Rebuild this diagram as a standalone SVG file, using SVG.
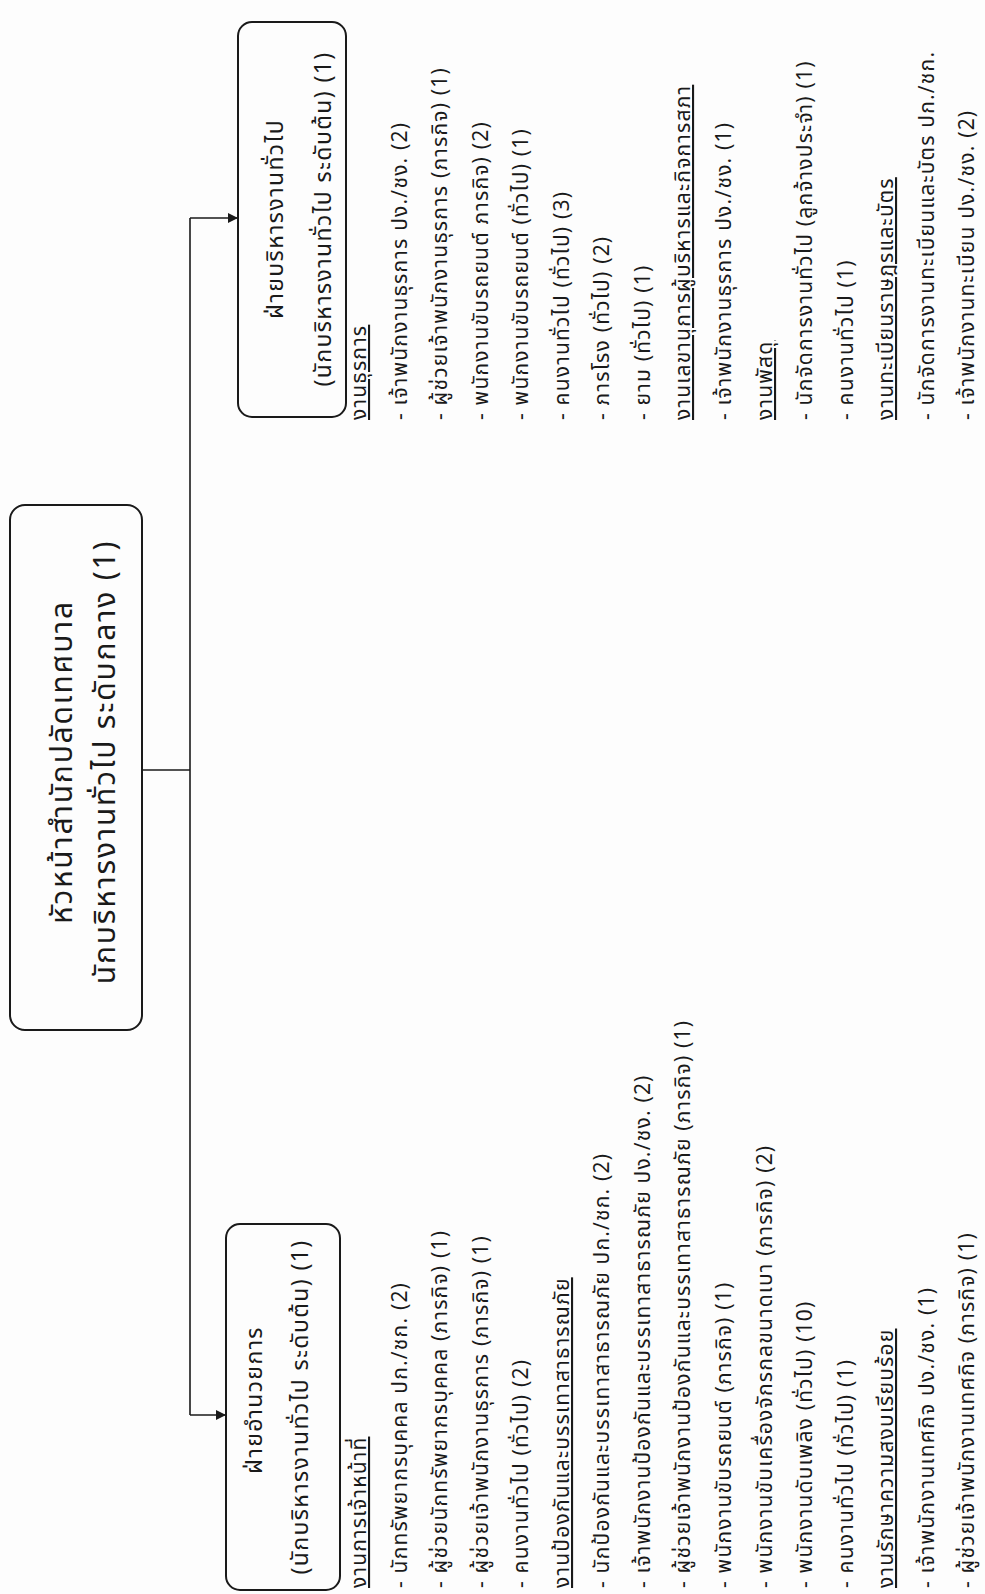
<svg xmlns="http://www.w3.org/2000/svg" width="985" height="1594" viewBox="0 0 985 1594">
<defs>
<style>
text{font-family:"Noto Sans Thai","TlwgTypewriter","Loma","Garuda","DejaVu Sans",sans-serif;fill:#1a1a1a}
.box{fill:none;stroke:#1a1a1a;stroke-width:2}
.ln{fill:none;stroke:#1a1a1a;stroke-width:1.6}
.h{font-size:30px;letter-spacing:1.8px;text-anchor:middle}
.b{font-size:23px;letter-spacing:1.4px;text-anchor:middle}
.l{font-size:21px;letter-spacing:1.2px}
.u{text-decoration:underline}
</style>
<marker id="ah" markerWidth="10" markerHeight="10" refX="9" refY="5" orient="auto" markerUnits="userSpaceOnUse"><path d="M0,0 L10,5 L0,10 z" fill="#1a1a1a"/></marker>
</defs>
<rect width="985" height="1594" fill="#fdfdfd"/>
<g id="head">
<rect class="box" x="10" y="505" width="132" height="525" rx="15"/>
<text class="h" transform="translate(72,762) rotate(-90)">หัวหน้าสำนักปลัดเทศบาล</text>
<text class="h" transform="translate(115,762) rotate(-90)">นักบริหารงานทั่วไป ระดับกลาง (1)</text>
</g>
<g id="general">
<rect class="box" x="238" y="22" width="108" height="395" rx="14"/>
<text class="b" transform="translate(283,219) rotate(-90)">ฝ่ายบริหารงานทั่วไป</text>
<text class="b" transform="translate(331,219) rotate(-90)">(นักบริหารงานทั่วไป ระดับต้น) (1)</text>
</g>
<g id="admin">
<rect class="box" x="226" y="1224" width="114" height="366" rx="14"/>
<text class="b" transform="translate(262,1400) rotate(-90)">ฝ่ายอำนวยการ</text>
<text class="b" transform="translate(308,1407) rotate(-90)">(นักบริหารงานทั่วไป ระดับต้น) (1)</text>
</g>
<g id="connectors">
<path class="ln" d="M142,770 H190"/>
<path class="ln" d="M190,218 V1415"/>
<path class="ln" d="M190,218 H237" marker-end="url(#ah)"/>
<path class="ln" d="M190,1415 H225" marker-end="url(#ah)"/>
</g>
<g id="admin-list" class="l">
<text class="u" transform="translate(366,1588) rotate(-90)">งานการเจ้าหน้าที่</text>
<text transform="translate(407,1588) rotate(-90)">- นักทรัพยากรบุคคล ปก./ชก.  (2)</text>
<text transform="translate(447,1588) rotate(-90)">- ผู้ช่วยนักทรัพยากรบุคคล (ภารกิจ) (1)</text>
<text transform="translate(488,1588) rotate(-90)">- ผู้ช่วยเจ้าพนักงานธุรการ (ภารกิจ)  (1)</text>
<text transform="translate(528,1588) rotate(-90)">- คนงานทั่วไป (ทั่วไป) (2)</text>
<text class="u" transform="translate(569,1588) rotate(-90)">งานป้องกันและบรรเทาสาธารณภัย</text>
<text transform="translate(609,1588) rotate(-90)">- นักป้องกันและบรรเทาสาธารณภัย ปก./ชก. (2)</text>
<text transform="translate(650,1588) rotate(-90)">- เจ้าพนักงานป้องกันและบรรเทาสาธารณภัย ปง./ชง. (2)</text>
<text transform="translate(690,1588) rotate(-90)">- ผู้ช่วยเจ้าพนักงานป้องกันและบรรเทาสาธารณภัย  (ภารกิจ) (1)</text>
<text transform="translate(731,1588) rotate(-90)">- พนักงานขับรถยนต์ (ภารกิจ) (1)</text>
<text transform="translate(772,1588) rotate(-90)">- พนักงานขับเครื่องจักรกลขนาดเบา (ภารกิจ) (2)</text>
<text transform="translate(812,1588) rotate(-90)">- พนักงานดับเพลิง (ทั่วไป) (10)</text>
<text transform="translate(853,1588) rotate(-90)">- คนงานทั่วไป (ทั่วไป) (1)</text>
<text class="u" transform="translate(893,1588) rotate(-90)">งานรักษาความสงบเรียบร้อย</text>
<text transform="translate(934,1588) rotate(-90)">- เจ้าพนักงานเทศกิจ ปง./ชง. (1)</text>
<text transform="translate(974,1588) rotate(-90)">- ผู้ช่วยเจ้าพนักงานเทศกิจ (ภารกิจ) (1)</text>
</g>
<g id="general-list" class="l">
<text class="u" transform="translate(366,420) rotate(-90)">งานธุรการ</text>
<text transform="translate(407,420) rotate(-90)">- เจ้าพนักงานธุรการ ปง./ชง.  (2)</text>
<text transform="translate(447,420) rotate(-90)">- ผู้ช่วยเจ้าพนักงานธุรการ (ภารกิจ) (1)</text>
<text transform="translate(488,420) rotate(-90)">- พนักงานขับรถยนต์ ภารกิจ) (2)</text>
<text transform="translate(528,420) rotate(-90)">- พนักงานขับรถยนต์ (ทั่วไป) (1)</text>
<text transform="translate(569,420) rotate(-90)">- คนงานทั่วไป (ทั่วไป)  (3)</text>
<text transform="translate(609,420) rotate(-90)">- ภารโรง (ทั่วไป)  (2)</text>
<text transform="translate(650,420) rotate(-90)">- ยาม (ทั่วไป)  (1)</text>
<text class="u" transform="translate(690,420) rotate(-90)">งานเลขานุการผู้บริหารและกิจการสภา</text>
<text transform="translate(731,420) rotate(-90)">- เจ้าพนักงานธุรการ ปง./ชง. (1)</text>
<text class="u" transform="translate(772,420) rotate(-90)">งานพัสดุ</text>
<text transform="translate(812,420) rotate(-90)">- นักจัดการงานทั่วไป (ลูกจ้างประจำ) (1)</text>
<text transform="translate(853,420) rotate(-90)">- คนงานทั่วไป (1)</text>
<text class="u" transform="translate(893,420) rotate(-90)">งานทะเบียนราษฎรและบัตร</text>
<text transform="translate(934,420) rotate(-90)">- นักจัดการงานทะเบียนและบัตร ปก./ชก.</text>
<text transform="translate(974,420) rotate(-90)">- เจ้าพนักงานทะเบียน ปง./ชง. (2)</text>
</g>
</svg>
